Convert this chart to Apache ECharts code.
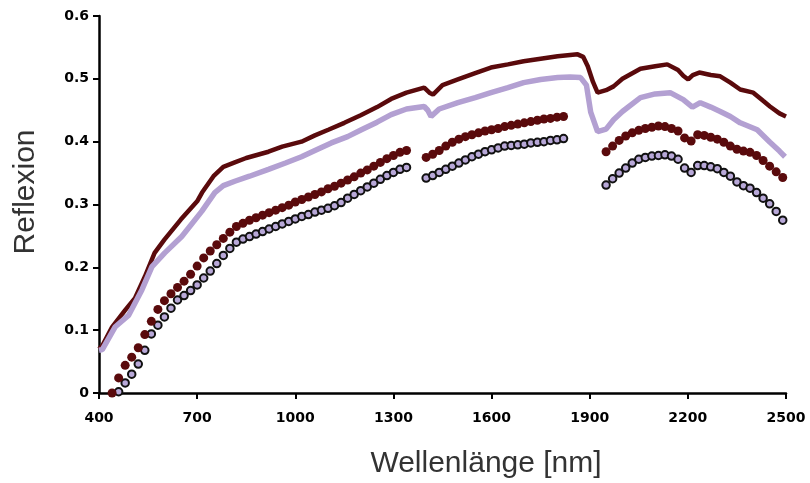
<!DOCTYPE html>
<html>
<head>
<meta charset="utf-8">
<script src="https://cdn.jsdelivr.net/npm/echarts@6/dist/echarts.min.js"></script>
<style>
  html, body { margin: 0; padding: 0; background: #fff; }
  #chart { width: 810px; height: 483px; }
</style>
</head>
<body>
<div id="chart"></div>
<script>
// Reflectance spectra, wavelength in nm
const xTicks = [400, 700, 1000, 1300, 1600, 1900, 2200, 2500];
const yTicks = [0, 0.1, 0.2, 0.3, 0.4, 0.5, 0.6];
const xTitle = 'Wellenlänge [nm]';
const yTitle = 'Reflexion';

// Upper continuous spectrum (dark red line)
const lineTopWl = [400, 410, 440, 480, 510, 540, 570, 600, 650, 700, 715, 750, 780, 815, 850, 918, 960, 1019, 1060, 1101, 1150, 1200, 1250, 1293, 1340, 1394, 1410, 1421, 1450, 1497, 1550, 1598, 1650, 1698, 1750, 1802, 1863, 1880, 1894, 1910, 1924, 1950, 1973, 2000, 2055, 2100, 2137, 2170, 2186, 2201, 2215, 2235, 2270, 2299, 2330, 2360, 2400, 2430, 2451, 2480, 2500];
const lineTopVal = [0.070, 0.075, 0.105, 0.132, 0.151, 0.185, 0.223, 0.244, 0.276, 0.305, 0.319, 0.345, 0.360, 0.367, 0.374, 0.384, 0.392, 0.400, 0.410, 0.419, 0.430, 0.442, 0.455, 0.468, 0.478, 0.486, 0.478, 0.475, 0.490, 0.499, 0.509, 0.518, 0.523, 0.528, 0.532, 0.536, 0.539, 0.535, 0.520, 0.495, 0.478, 0.482, 0.488, 0.500, 0.516, 0.520, 0.523, 0.514, 0.505, 0.499, 0.506, 0.510, 0.506, 0.504, 0.494, 0.483, 0.478, 0.465, 0.456, 0.445, 0.440];

// Second continuous spectrum (lavender line)
const lineLavWl = [400, 410, 449, 491, 531, 562, 601, 653, 714, 754, 780, 815, 860, 918, 970, 1019, 1060, 1110, 1160, 1202, 1250, 1293, 1340, 1394, 1405, 1415, 1440, 1497, 1550, 1598, 1650, 1698, 1750, 1802, 1840, 1872, 1890, 1903, 1924, 1950, 1973, 2000, 2055, 2100, 2146, 2186, 2214, 2238, 2270, 2299, 2330, 2360, 2412, 2451, 2480, 2497];
const lineLavVal = [0.068, 0.069, 0.105, 0.124, 0.164, 0.201, 0.223, 0.249, 0.289, 0.319, 0.330, 0.337, 0.345, 0.356, 0.366, 0.376, 0.386, 0.398, 0.408, 0.419, 0.431, 0.443, 0.452, 0.456, 0.450, 0.440, 0.452, 0.462, 0.470, 0.478, 0.486, 0.494, 0.499, 0.502, 0.503, 0.502, 0.490, 0.447, 0.416, 0.420, 0.435, 0.448, 0.470, 0.476, 0.478, 0.467, 0.455, 0.462, 0.455, 0.448, 0.440, 0.430, 0.419, 0.399, 0.385, 0.376];

// Third spectrum (dark red dots), water bands removed
const dotsRedWl = [440, 460, 480, 500, 520, 540, 560, 580, 600, 620, 640, 660, 680, 700, 720, 740, 760, 780, 800, 820, 840, 860, 880, 900, 920, 940, 960, 980, 1000, 1020, 1040, 1060, 1080, 1100, 1120, 1140, 1160, 1180, 1200, 1220, 1240, 1260, 1280, 1300, 1320, 1340,
  1400, 1420, 1440, 1460, 1480, 1500, 1520, 1540, 1560, 1580, 1600, 1620, 1640, 1660, 1680, 1700, 1720, 1740, 1760, 1780, 1800, 1820,
  1950, 1970, 1990, 2010, 2030, 2050, 2070, 2090, 2110, 2130, 2150, 2170, 2190, 2210, 2230, 2250, 2270, 2290, 2310, 2330, 2350, 2370, 2390, 2410, 2430, 2450, 2470, 2490];
const dotsRedVal = [0.000, 0.024, 0.044, 0.057, 0.072, 0.093, 0.114, 0.133, 0.147, 0.158, 0.168, 0.178, 0.189, 0.202, 0.215, 0.226, 0.236, 0.246, 0.256, 0.265, 0.270, 0.275, 0.279, 0.283, 0.287, 0.291, 0.295, 0.299, 0.304, 0.308, 0.312, 0.316, 0.320, 0.325, 0.329, 0.334, 0.339, 0.344, 0.350, 0.355, 0.361, 0.367, 0.373, 0.378, 0.383, 0.386,
  0.375, 0.380, 0.386, 0.393, 0.399, 0.404, 0.408, 0.411, 0.414, 0.417, 0.419, 0.421, 0.424, 0.426, 0.428, 0.430, 0.432, 0.434, 0.436, 0.437, 0.439, 0.440,
  0.384, 0.393, 0.402, 0.409, 0.414, 0.418, 0.421, 0.423, 0.425, 0.424, 0.421, 0.417, 0.406, 0.401, 0.411, 0.410, 0.407, 0.404, 0.399, 0.393, 0.388, 0.385, 0.383, 0.378, 0.370, 0.361, 0.352, 0.343];

// Fourth spectrum (outlined lavender dots), water bands removed
const dotsLavWl = [460, 480, 500, 520, 540, 560, 580, 600, 620, 640, 660, 680, 700, 720, 740, 760, 780, 800, 820, 840, 860, 880, 900, 920, 940, 960, 980, 1000, 1020, 1040, 1060, 1080, 1100, 1120, 1140, 1160, 1180, 1200, 1220, 1240, 1260, 1280, 1300, 1320, 1340,
  1400, 1420, 1440, 1460, 1480, 1500, 1520, 1540, 1560, 1580, 1600, 1620, 1640, 1660, 1680, 1700, 1720, 1740, 1760, 1780, 1800, 1820,
  1950, 1970, 1990, 2010, 2030, 2050, 2070, 2090, 2110, 2130, 2150, 2170, 2190, 2210, 2230, 2250, 2270, 2290, 2310, 2330, 2350, 2370, 2390, 2410, 2430, 2450, 2470, 2490];
const dotsLavVal = [0.002, 0.016, 0.030, 0.046, 0.068, 0.094, 0.108, 0.121, 0.135, 0.148, 0.155, 0.163, 0.172, 0.183, 0.194, 0.206, 0.219, 0.230, 0.240, 0.245, 0.249, 0.253, 0.257, 0.261, 0.265, 0.269, 0.273, 0.277, 0.281, 0.284, 0.288, 0.291, 0.294, 0.298, 0.303, 0.310, 0.316, 0.322, 0.328, 0.334, 0.340, 0.346, 0.351, 0.356, 0.359,
  0.342, 0.346, 0.351, 0.356, 0.361, 0.366, 0.371, 0.376, 0.380, 0.384, 0.387, 0.390, 0.393, 0.394, 0.395, 0.396, 0.398, 0.399, 0.400, 0.402, 0.403, 0.405,
  0.331, 0.341, 0.350, 0.358, 0.366, 0.372, 0.375, 0.377, 0.378, 0.379, 0.377, 0.372, 0.358, 0.351, 0.362, 0.362, 0.360, 0.357, 0.351, 0.345, 0.336, 0.330, 0.326, 0.319, 0.310, 0.301, 0.289, 0.275];

const pairs = (xs, ys) => xs.map((x, i) => [x, ys[i]]);

const DARK_RED = '#5a0a0c';
const LAVENDER = '#b3a0d2';
const DOT_FILL = '#b8a8d8';
const tickFont = { fontFamily: 'DejaVu Sans', fontWeight: 'bold', fontSize: 14, color: '#000' };
const titleFont = { fontFamily: 'Liberation Sans', fontSize: 30, fill: '#333' };

const chart = echarts.init(document.getElementById('chart'), null, { renderer: 'canvas' });
chart.setOption({
  animation: false,
  backgroundColor: '#fff',
  grid: { left: 99, right: 24, top: 16, bottom: 90, containLabel: false },
  xAxis: {
    type: 'value',
    min: xTicks[0],
    max: xTicks[xTicks.length - 1],
    interval: xTicks[1] - xTicks[0],
    axisLine: { show: true, lineStyle: { color: '#000', width: 2.5 } },
    axisTick: { show: true, inside: false, length: 6, lineStyle: { color: '#000', width: 2 } },
    axisLabel: Object.assign({ margin: 18, formatter: v => String(v) }, tickFont),
    splitLine: { show: false }
  },
  yAxis: {
    type: 'value',
    min: yTicks[0],
    max: yTicks[yTicks.length - 1],
    interval: 0.1,
    axisLine: { show: true, lineStyle: { color: '#000', width: 2.5 } },
    axisTick: { show: true, inside: false, length: 6, lineStyle: { color: '#000', width: 2 } },
    axisLabel: Object.assign({
      margin: 10,
      formatter: v => (v === 0 ? '0' : v.toFixed(1))
    }, tickFont),
    splitLine: { show: false }
  },
  graphic: [
    {
      type: 'text',
      x: 486, y: 464,
      style: Object.assign({ text: xTitle, textAlign: 'center', textVerticalAlign: 'middle' }, titleFont)
    },
    {
      type: 'text',
      x: 26, y: 192,
      rotation: Math.PI / 2,
      style: Object.assign({ text: yTitle, textAlign: 'center', textVerticalAlign: 'middle' }, titleFont)
    }
  ],
  series: [
    {
      type: 'line',
      data: pairs(lineTopWl, lineTopVal),
      showSymbol: false,
      lineStyle: { color: DARK_RED, width: 4.5 },
      z: 2
    },
    {
      type: 'line',
      data: pairs(lineLavWl, lineLavVal),
      showSymbol: false,
      lineStyle: { color: LAVENDER, width: 5.5 },
      z: 2
    },
    {
      type: 'scatter',
      data: pairs(dotsLavWl, dotsLavVal),
      symbol: 'circle',
      symbolSize: 7.5,
      itemStyle: { color: DOT_FILL, borderColor: '#111', borderWidth: 2, opacity: 1 },
      z: 3
    },
    {
      type: 'scatter',
      data: pairs(dotsRedWl, dotsRedVal),
      symbol: 'circle',
      symbolSize: 9,
      itemStyle: { color: DARK_RED, opacity: 1 },
      z: 4
    }
  ]
});
</script>
</body>
</html>
